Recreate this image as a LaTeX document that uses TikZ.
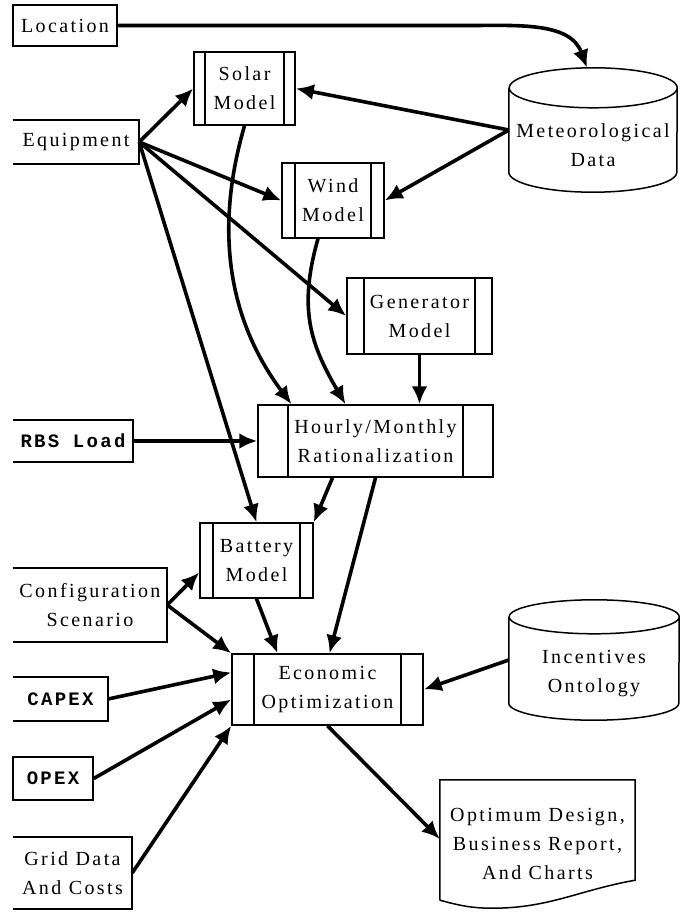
\documentclass[tikz,border=0pt]{standalone}
\usepackage{fontspec}
\setmainfont{Liberation Serif}[LetterSpace=12]
\newfontfamily\courfont{Liberation Mono}[LetterSpace=12]
\usetikzlibrary{arrows.meta}

\begin{document}
\begin{tikzpicture}[x=1pt,y=-1pt,
    txt/.style = {inner sep=0pt, align=center, font=\fontsize{20}{29}\selectfont},
    box/.style = {txt, draw, line width=1.5pt},
    openbox/.style = {txt},
    dbnode/.style = {txt},
    cour/.style = {font=\courfont\bfseries\fontsize{19}{22}\selectfont},
    proc/.style = {box, path picture={\draw[line width=1.5pt]
        ([xshift=#1]path picture bounding box.north west) -- ([xshift=#1]path picture bounding box.south west)
        ([xshift=-#1]path picture bounding box.north east) -- ([xshift=-#1]path picture bounding box.south east);}},
    arr/.style = {-{Latex[length=18pt,width=16pt]}, line width=3.6pt}]
    \useasboundingbox (0,0) rectangle (686,912);

    \node[box, minimum width=104pt, minimum height=41pt] (loc) at (65,25.5) {Location};
    \node[openbox, minimum width=126pt, minimum height=44pt] (equip) at (76,142) {Equipment};
    \node[proc=11pt, minimum width=101pt, minimum height=73pt] (solar) at (244.5,88.5) {Solar\\Model};
    \node[dbnode, minimum width=168pt, minimum height=124pt] (met) at (593,130) {};
    \node[txt] (metlabel) at ([yshift=-15pt]met.center) {Meteorological\\Data};
    \node[proc=13pt, minimum width=102pt, minimum height=75pt] (wind) at (333,200.5) {Wind\\Model};
    \node[proc=17pt, minimum width=145pt, minimum height=76pt] (gen) at (419.5,316) {Generator\\Model};
    \node[proc=30pt, minimum width=235pt, minimum height=72pt] (hourly) at (375.5,441) {Hourly/Monthly\\Rationalization};
    \node[openbox, cour, minimum width=120pt, minimum height=42pt] (rbs) at (73,441) {RBS Load};
    \node[proc=13pt, minimum width=113pt, minimum height=75pt] (batt) at (256.5,560.5) {Battery\\Model};
    \node[openbox, minimum width=154pt, minimum height=74pt] (config) at (90,605) {Configuration\\Scenario};
    \node[proc=22pt, minimum width=191pt, minimum height=71pt] (econ) at (327.5,689.5) {Economic\\Optimization};
    \node[openbox, cour, minimum width=95pt, minimum height=44pt] (capex) at (60.5,699) {CAPEX};
    \node[box, cour, minimum width=80pt, minimum height=43pt] (opex) at (53,778.5) {OPEX};
    \node[openbox, minimum width=119pt, minimum height=72pt] (grid) at (72.5,873) {Grid Data\\And Costs};
    \node[dbnode, minimum width=170pt, minimum height=120pt] (inc) at (594,660) {};
    \node[txt] (inclabel) at ([yshift=-14pt]inc.center) {Incentives\\Ontology};
    \node[openbox, minimum width=195pt, minimum height=128pt] (doc) at (537.5,844) {Optimum Design,\\Business Report,\\And Charts};

    % boxes open on the left
    \foreach \n/\w in {equip/1.5,rbs/1.5,config/2.5,capex/1.5,grid/1.5}
        \draw[line width=\w pt] (\n.north west) -- (\n.north east) -- (\n.south east) -- (\n.south west);
    % data stores
    \foreach \n/\r/\a in {met/20/84,inc/17/85}
        \draw[line width=1.5pt] ([yshift=-\r pt]\n.north west) -- ([yshift=\r pt]\n.south west)
            arc[start angle=180, end angle=360, x radius=\a pt, y radius=\r pt]
            -- ([yshift=-\r pt]\n.north east)
            arc[start angle=0, end angle=360, x radius=\a pt, y radius=\r pt];
    % report
    \draw[line width=1.5pt] ([yshift=8pt]doc.south west) -- (doc.north west) -- (doc.north east)
        -- ([yshift=28pt]doc.south east) to[out=190,in=0] ([xshift=-45pt]doc.south)
        to[out=180,in=-15] ([yshift=8pt]doc.south west);

    \coordinate (bend) at (470,25.5);
    \draw[arr] (loc.east) -- (bend) to[out=0,in=110] ([xshift=-6pt]met.north);
    \draw[arr] (met.west) -- (solar.east);
    \draw[arr] (met.west) -- (wind.east);
    \draw[arr] (equip.east) -- (solar.west);
    \draw[arr] (equip.east) -- (wind.west);
    \draw[arr] (equip.east) -- (gen.west);
    \draw[arr] (equip.east) -- (batt.north);
    \draw[arr] (solar.south) .. controls +(-32,110) and +(-60,-80) .. ([xshift=-84pt]hourly.north);
    \draw[arr] ([xshift=-15pt]wind.south) .. controls +(-20,70) and +(-35,-60) .. ([xshift=-30pt]hourly.north);
    \draw[arr] (gen.south) -- (gen.south |- hourly.north);
    \draw[arr] (rbs.east) -- (hourly.west);
    \draw[arr] ([xshift=-43pt]hourly.south) -- (batt.north east);
    \draw[arr] (hourly.south) -- ([xshift=2pt]econ.north);
    \draw[arr] (batt.south) -- ([xshift=-50pt]econ.north);
    \draw[arr] (config.east) -- ([yshift=-12pt]batt.west);
    \draw[arr] (config.east) -- (econ.north west);
    \draw[arr] (capex.east) -- ([yshift=17pt]econ.west);
    \draw[arr] (opex.east) -- ([yshift=-10pt]econ.west);
    \draw[arr] (grid.east) -- (econ.south west);
    \draw[arr] (inc.west) -- (econ.east);
    \draw[arr] (econ.south) -- ([yshift=5pt]doc.west);
    %\draw[arr] (equip.east) to[bend right=5] (batt.north);
\end{tikzpicture}
\end{document}
